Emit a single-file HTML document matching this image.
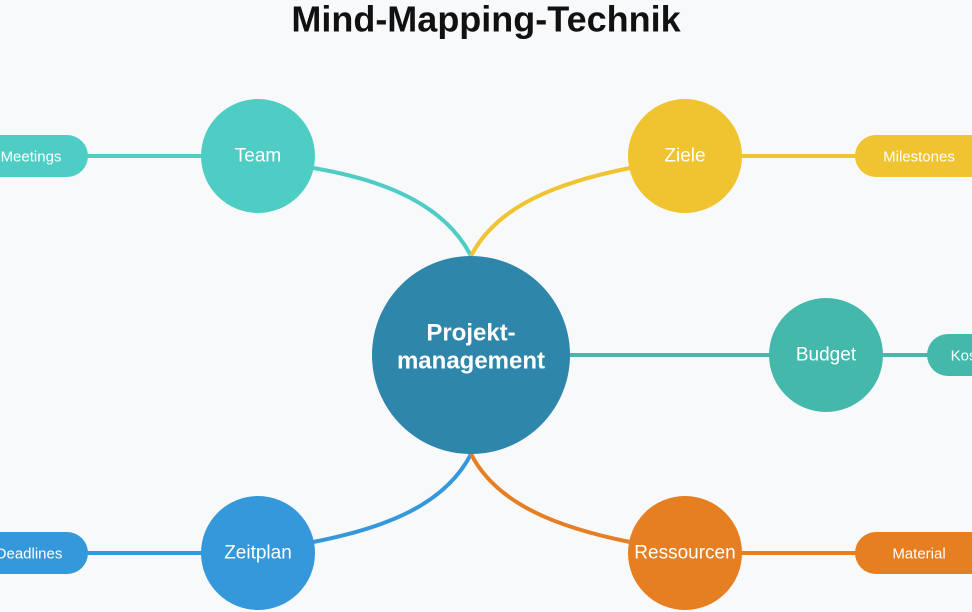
<!DOCTYPE html>
<html><head><meta charset="utf-8"><style>
html,body{margin:0;padding:0;background:#f7f9fb;}
svg{display:block}
text{font-family:"Liberation Sans",sans-serif;fill:#fff;text-anchor:middle;dominant-baseline:central}
</style></head><body>
<svg width="972" height="612" viewBox="0 0 972 612">
<rect width="972" height="612" fill="#f7f9fb"/>
<text x="486" y="19" style="fill:#111;font-size:36px;font-weight:bold">Mind-Mapping-Technik</text>
<g fill="none" stroke-width="4">
<path d="M471,256 C445,205 385,180 313,168" stroke="#4ECDC4"/>
<path d="M471,256 C497,205 560,182 630,168" stroke="#F0C330"/>
<path d="M471,454 C445,505 385,528 313,542" stroke="#3498DB"/>
<path d="M471,454 C497,505 560,528 630,542" stroke="#E67E22"/>
<path d="M570,355 H770" stroke="#45B8AC"/>
<path d="M880,355 H930" stroke="#45B8AC"/>
<path d="M80,156 H202" stroke="#4ECDC4"/>
<path d="M740,156 H860" stroke="#F0C330"/>
<path d="M80,553 H202" stroke="#3498DB"/>
<path d="M740,553 H860" stroke="#E67E22"/>
</g>
<rect x="-40" y="135" width="128" height="42" rx="21" fill="#4ECDC4"/>
<rect x="855" y="135" width="140" height="42" rx="21" fill="#F0C330"/>
<rect x="927" y="334" width="80" height="42" rx="21" fill="#45B8AC"/>
<rect x="-40" y="532" width="128" height="42" rx="21" fill="#3498DB"/>
<rect x="855" y="532" width="140" height="42" rx="21" fill="#E67E22"/>
<circle cx="471" cy="355" r="99" fill="#2E86AB"/>
<circle cx="258" cy="156" r="57" fill="#4ECDC4"/>
<circle cx="685" cy="156" r="57" fill="#F0C330"/>
<circle cx="826" cy="355" r="57" fill="#45B8AC"/>
<circle cx="258" cy="553" r="57" fill="#3498DB"/>
<circle cx="685" cy="553" r="57" fill="#E67E22"/>
<text x="471" y="333" style="font-size:24px;font-weight:bold">Projekt-</text>
<text x="471" y="361" style="font-size:24px;font-weight:bold">management</text>
<text x="258" y="156" style="font-size:19px">Team</text>
<text x="685" y="156" style="font-size:19px">Ziele</text>
<text x="826" y="355" style="font-size:19px">Budget</text>
<text x="258" y="553" style="font-size:19px">Zeitplan</text>
<text x="685" y="553" style="font-size:19px">Ressourcen</text>
<text x="31" y="157" style="font-size:15px">Meetings</text>
<text x="919" y="157" style="font-size:15px">Milestones</text>
<text x="974" y="356" style="font-size:15px">Kosten</text>
<text x="29" y="554" style="font-size:15px">Deadlines</text>
<text x="919" y="554" style="font-size:15px">Material</text>
</svg>
</body></html>
